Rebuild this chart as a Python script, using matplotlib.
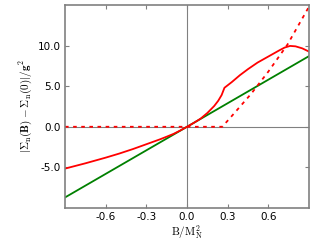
import matplotlib
matplotlib.use('Agg')
import matplotlib.pyplot as plt

plt.rcParams['mathtext.fontset'] = 'cm'

# red solid curve
x_red = [-0.9, -0.75, -0.6, -0.5, -0.4, -0.3, -0.2, -0.15, -0.1, -0.05, 0.0,
         0.05, 0.1, 0.15, 0.2, 0.23, 0.255, 0.276, 0.33, 0.39, 0.45, 0.52,
         0.6, 0.68, 0.72, 0.76, 0.8, 0.85, 0.9]
y_red = [-5.15, -4.5, -3.8, -3.3, -2.75, -2.15, -1.55, -1.22, -0.88, -0.46, 0.0,
         0.48, 1.0, 1.7, 2.55, 3.2, 3.9, 4.8, 5.5, 6.35, 7.1, 7.9,
         8.65, 9.4, 9.75, 9.95, 9.9, 9.65, 9.25]
# red dashed curve
x_dash = [-0.9, 0.26, 0.35, 0.47, 0.6, 0.74, 0.9]
y_dash = [0.0, 0.0, 1.7, 4.0, 6.8, 10.1, 14.8]
# green line
x_lin = [-0.9, 0.9]
y_lin = [-8.7, 8.7]

fig = plt.figure(figsize=(3.25, 2.45), dpi=100)
ax = fig.add_axes([0.2, 0.151, 0.751, 0.829])

ax.axhline(0, color='gray', lw=0.8)
ax.axvline(0, color='gray', lw=0.8)
ax.plot(x_lin, y_lin, color='green', lw=1.3)
ax.plot(x_red, y_red, color='red', lw=1.3)
ax.plot(x_dash, y_dash, color='red', lw=1.3, ls='--', dashes=(2, 2.5))

ax.set_xlim(-0.9, 0.9)
ax.set_ylim(-10, 15)
ax.set_xticks([-0.6, -0.3, 0.0, 0.3, 0.6])
ax.set_xticklabels(['-0.6', '-0.3', '0.0', '0.3', '0.6'])
ax.set_yticks([-5, 0, 5, 10])
ax.set_yticklabels(['-5.0', '0.0', '5.0', '10.0'])
ax.tick_params(direction='in', top=True, right=True, labelsize=7.5,
               color='gray', length=3, pad=3)
for s in ax.spines.values():
    s.set_color('gray')
    s.set_linewidth(1.2)

ax.set_xlabel(r'$\mathrm{B/M_N^2}$', fontsize=8, labelpad=1)
ax.set_ylabel(r'$|\Sigma_{\rm n}(\mathbf{B})-\Sigma_{\rm n}(0)|/\mathbf{g}^2$',
              fontsize=8, labelpad=3)

fig.savefig('out.png', dpi=100)
